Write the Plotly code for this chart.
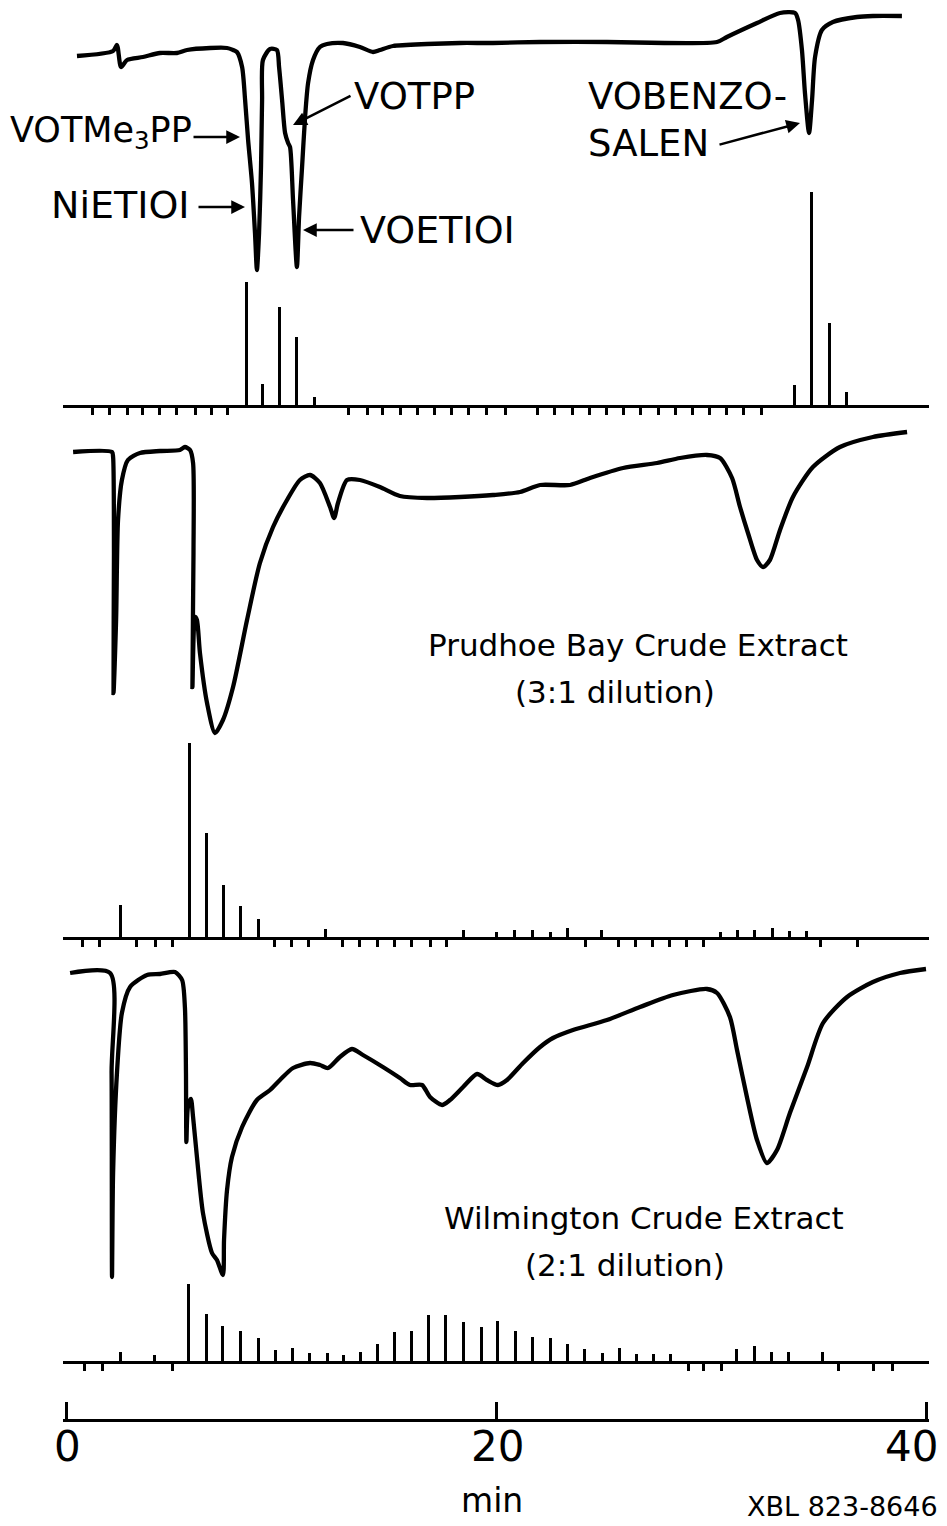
import plotly.graph_objects as go

W, H = 947, 1526
OFF = 8                 # page body margin in the screenshot
X0_PX, X1_PX = 66, 926  # 0 min and 40 min (screenshot pixels)
PAD_MIN = 0.12          # small range padding so the end ticks are drawn

# ---------------- data (time in min, response in arbitrary units) -------------
# Panel 1: standards chromatogram
p1_t = [0.51, 2.19, 2.37, 2.56, 2.84, 3.58, 4.37, 5.16, 5.63, 6.70, 7.49, 7.77, 7.95, 8.19, 8.33,
        8.47, 8.65, 8.79, 8.88, 8.98, 9.07, 9.12, 9.16, 9.49, 9.81, 9.91, 10.05, 10.19, 10.33, 10.42,
        10.56, 10.74, 10.84, 10.98, 11.12, 11.26, 11.49, 11.81, 12.14, 12.88, 13.67, 14.28, 14.60, 15.21, 16.79,
        18.33, 19.86, 22.05, 25.16, 30.28, 30.74, 32.14, 33.21, 33.91, 34.05, 34.23, 34.37, 34.56, 34.70, 34.84,
        35.16, 35.67, 36.79, 37.53, 38.88]
p1_r = [224, 229, 235, 213, 220, 223, 227, 227, 230, 232, 232, 230, 228, 213, 180,
        140, 97, 47, 10, 47, 113, 180, 220, 231, 230, 213, 180, 147, 137, 133,
        80, 13, 63, 113, 163, 197, 220, 233, 236, 237, 233, 228, 230, 234, 236,
        237, 237, 238, 238, 238, 243, 257, 267, 267, 260, 230, 187, 147, 180, 223,
        250, 258, 263, 264, 264]
p1_stick_t = [8.42, 9.16, 9.95, 10.74, 11.58, 33.91, 34.70, 35.53, 36.33]
p1_stick_h = [123, 21, 98, 68, 8, 20, 213, 82, 13]
p1_empty_t = [1.21, 2.00, 2.84, 3.58, 4.37, 5.16, 6.00, 6.79, 7.53, 13.16, 14.00, 14.74, 15.58, 16.33,
              17.16, 17.95, 18.74, 19.58, 20.42, 21.95, 22.74, 23.58, 24.37, 25.16, 25.95, 26.74,
              27.58, 28.37, 29.16, 29.95, 30.74, 31.53, 32.37]

# Panel 2: Prudhoe Bay crude extract
p2_t = [0.33, 2.14, 2.19, 2.23, 2.21, 2.33, 2.42, 2.60, 2.88, 3.44, 4.37, 5.30, 5.53, 5.77, 5.91,
        5.93, 5.88, 6.00, 6.09, 6.23, 6.56, 6.93, 7.30, 7.77, 8.42, 9.02, 9.63, 10.28, 10.88, 11.35,
        11.81, 12.28, 12.47, 12.65, 13.07, 13.67, 14.60, 15.53, 16.79, 18.33, 19.86, 21.12, 22.05, 23.44, 24.37,
        25.91, 27.49, 28.56, 29.81, 30.42, 30.98, 31.35, 31.72, 32.14, 32.42, 32.74, 33.21, 33.81, 34.74, 36.00,
        37.53, 39.12]
p2_r = [308, 308, 303, 207, 67, 140, 240, 280, 300, 307, 309, 310, 313, 310, 297,
        207, 73, 143, 140, 107, 57, 27, 40, 73, 140, 197, 233, 260, 280, 285,
        277, 253, 242, 257, 280, 280, 273, 264, 262, 263, 265, 268, 275, 275, 282,
        292, 297, 302, 305, 302, 282, 253, 227, 200, 193, 200, 230, 263, 293, 313,
        323, 328]
p2_stick_t = [2.56, 5.77, 6.56, 7.35, 8.14, 8.98, 12.09, 18.51, 20.05, 20.88, 21.72, 22.56, 23.35,
              24.93, 30.47, 31.26, 32.05, 32.88, 33.67, 34.47]
p2_stick_h = [32, 194, 104, 52, 31, 18, 8, 7, 5, 7, 7, 5, 9, 7, 5, 7, 7, 9, 6, 6]
p2_empty_t = [0.79, 1.58, 3.30, 4.14, 4.93, 9.72, 10.51, 11.26, 12.88, 13.67, 14.51, 15.30, 16.09,
              16.93, 17.72, 24.14, 25.72, 26.51, 27.30, 28.09, 28.88, 29.67, 35.10, 36.80]

# Panel 3: Wilmington crude extract
p3_t = [0.19, 2.05, 2.12, 2.14, 2.19, 2.37, 2.60, 2.98, 3.77, 4.37, 5.07, 5.40, 5.53, 5.58, 5.60,
        5.67, 5.81, 5.91, 6.09, 6.37, 6.79, 7.02, 7.30, 7.35, 7.49, 7.72, 8.19, 8.88, 9.49, 9.95,
        10.56, 11.35, 11.81, 12.19, 12.74, 13.30, 13.81, 14.74, 15.53, 16.00, 16.56, 16.93, 17.49, 17.86, 18.47,
        19.12, 19.58, 20.09, 20.51, 21.26, 22.05, 22.65, 23.58, 25.16, 26.70, 28.23, 29.81, 30.28, 30.88, 31.21,
        31.67, 32.14, 32.60, 33.07, 33.67, 34.47, 35.21, 36.33, 37.53, 38.79, 40.0]
p3_r = [317, 317, 217, 13, 117, 217, 277, 303, 315, 316, 318, 310, 283, 217, 148,
        183, 191, 173, 133, 77, 37, 30, 15, 50, 100, 133, 163, 190, 200, 210,
        222, 227, 225, 222, 233, 241, 235, 223, 212, 205, 205, 193, 185, 190, 203,
        216, 210, 205, 210, 227, 243, 252, 260, 270, 283, 295, 301, 297, 273, 240,
        193, 150, 127, 140, 177, 223, 267, 293, 308, 317, 321]
p3_stick_t = [2.56, 4.14, 5.72, 6.56, 7.30, 8.14, 8.98, 9.77, 10.56, 11.35, 12.19, 12.93, 13.72,
              14.51, 15.30, 16.09, 16.88, 17.67, 18.51, 19.35, 20.09, 20.93, 21.72, 22.56, 23.35,
              24.14, 24.98, 25.77, 26.56, 27.35, 28.14, 31.21, 32.05, 32.84, 33.63, 35.21]
p3_stick_h = [9, 6, 77, 47, 35, 30, 23, 11, 13, 8, 8, 6, 9,
              17, 29, 30, 46, 46, 39, 34, 40, 30, 24, 23, 17,
              12, 8, 13, 7, 7, 7, 12, 15, 9, 9, 9]
p3_empty_t = [0.88, 1.72, 4.93, 28.93, 29.67, 30.51, 35.95, 37.58, 38.42]

time_ticks = [0, 20, 40]
time_ticktext = ["0", "20", "40"]

# ---------------- helpers ----------------
def fy(py):
    return min(1.0, max(0.0, 1 - (py - OFF) / H))

def fx(px):
    return min(1.0, max(0.0, (px - OFF) / W))

def dom(top_px, bottom_px):
    return [fy(bottom_px), fy(top_px)]

PX_PER_MIN = (X1_PX - X0_PX) / 40.0
XRANGE = [0 - PAD_MIN, 40 + PAD_MIN]
XDOM = [fx(X0_PX - PAD_MIN * PX_PER_MIN), fx(X1_PX + PAD_MIN * PX_PER_MIN)]
BLACK = "black"
FONT = "DejaVu Sans"

fig = go.Figure()

curve_style = dict(color=BLACK, width=4.3, shape="spline", smoothing=0.7)
fig.add_trace(go.Scatter(x=p1_t, y=p1_r, mode="lines", line=curve_style, xaxis="x", yaxis="y"))
fig.add_trace(go.Scatter(x=p2_t, y=p2_r, mode="lines", line=curve_style, xaxis="x", yaxis="y3"))
fig.add_trace(go.Scatter(x=p3_t, y=p3_r, mode="lines", line=curve_style, xaxis="x", yaxis="y5"))

bar_w = 0.14
for st, sh, xa, ya in [(p1_stick_t, p1_stick_h, "x2", "y2"),
                       (p2_stick_t, p2_stick_h, "x3", "y4"),
                       (p3_stick_t, p3_stick_h, "x4", "y6")]:
    fig.add_trace(go.Bar(x=st, y=sh, width=bar_w, marker=dict(color=BLACK, line=dict(width=0)),
                         xaxis=xa, yaxis=ya))

hidden_y = dict(visible=False, showgrid=False, zeroline=False, fixedrange=True, automargin=False)

def base_x(anchor, ticks_t):
    return dict(domain=XDOM, range=XRANGE, matches="x", anchor=anchor, automargin=False,
                showline=True, linecolor=BLACK, linewidth=3,
                ticks="outside", tickvals=ticks_t, ticklen=7, tickwidth=2.5, tickcolor=BLACK,
                showticklabels=False, showgrid=False, zeroline=False)

fig.update_layout(
    template="none",
    width=W, height=H,
    margin=dict(l=0, r=0, t=0, b=0, autoexpand=False),
    paper_bgcolor="white", plot_bgcolor="rgba(0,0,0,0)",
    showlegend=False, bargap=0,
    xaxis=dict(domain=XDOM, range=XRANGE, anchor="free", position=fy(1420), automargin=False,
               showline=True, linecolor=BLACK, linewidth=3,
               ticks="inside", tickvals=time_ticks, showticklabels=False,
               ticklen=17, tickwidth=3, tickcolor=BLACK,
               showgrid=False, zeroline=False),
    xaxis2=base_x("y2", p1_empty_t),
    xaxis3=base_x("y4", p2_empty_t),
    xaxis4=base_x("y6", p3_empty_t),
    # panel 1 curve: response 0 at 280 px, 272 at 8 px
    yaxis=dict(domain=dom(8, 280), range=[0, 272], anchor="x", **hidden_y),
    yaxis2=dict(domain=dom(180, 405), range=[0, 225], anchor="x2", **hidden_y),
    yaxis3=dict(domain=dom(420, 760), range=[0, 340], anchor="x", **hidden_y),
    yaxis4=dict(domain=dom(730, 937), range=[0, 207], anchor="x3", **hidden_y),
    yaxis5=dict(domain=dom(940, 1290), range=[0, 350], anchor="x", **hidden_y),
    yaxis6=dict(domain=dom(1270, 1361), range=[0, 91], anchor="x4", **hidden_y),
)

# time-axis labels placed at their tick values (last one kept inside the page)
for i, (tv, tt) in enumerate(zip(time_ticks, time_ticktext)):
    last = i == len(time_ticks) - 1
    fig.add_annotation(text=tt, x=tv, xref="x", y=fy(1446), yref="paper",
                       xanchor="right" if last else "center", yanchor="middle",
                       xshift=14 if last else 1, showarrow=False,
                       font=dict(family=FONT, size=42, color=BLACK))

def label(text, x, y, size=38, xanchor="left", yanchor="middle"):
    fig.add_annotation(text=text, x=fx(x), y=fy(y), xref="paper", yref="paper",
                       xanchor=xanchor, yanchor=yanchor, showarrow=False,
                       font=dict(family=FONT, size=size, color=BLACK))

def arrow(tip_x, tip_y, tail_x, tail_y):
    fig.add_annotation(text="", x=fx(tip_x), y=fy(tip_y), xref="paper", yref="paper",
                       ax=tail_x - tip_x, ay=tail_y - tip_y, axref="pixel", ayref="pixel",
                       showarrow=True, arrowhead=2, arrowsize=1.1, arrowwidth=2.5, arrowcolor=BLACK)

label("VOTMe<sub>3</sub>PP", 8, 132, size=35)
label("NiETIOI", 192, 205, xanchor="right")
label("VOTPP", 352, 97, size=37)
label("VOETIOI", 358, 230)
label("VOBENZO-", 586, 97, size=37)
label("SALEN", 586, 143, size=37)
arrow(240, 137, 192, 137)
arrow(245, 207, 197, 207)
arrow(293, 125, 352, 95)
arrow(303, 230, 355, 230)
arrow(800, 123, 718, 145)

label("Prudhoe Bay Crude Extract", 638, 645, size=31, xanchor="center")
label("(3:1 dilution)", 615, 692, size=31, xanchor="center")
label("Wilmington Crude Extract", 644, 1218, size=31, xanchor="center")
label("(2:1 dilution)", 625, 1265, size=31, xanchor="center")

label("min", 492, 1500, size=33, xanchor="center")
label("XBL 823-8646", 940, 1506, size=27, xanchor="right")

fig.write_html("out.html")
